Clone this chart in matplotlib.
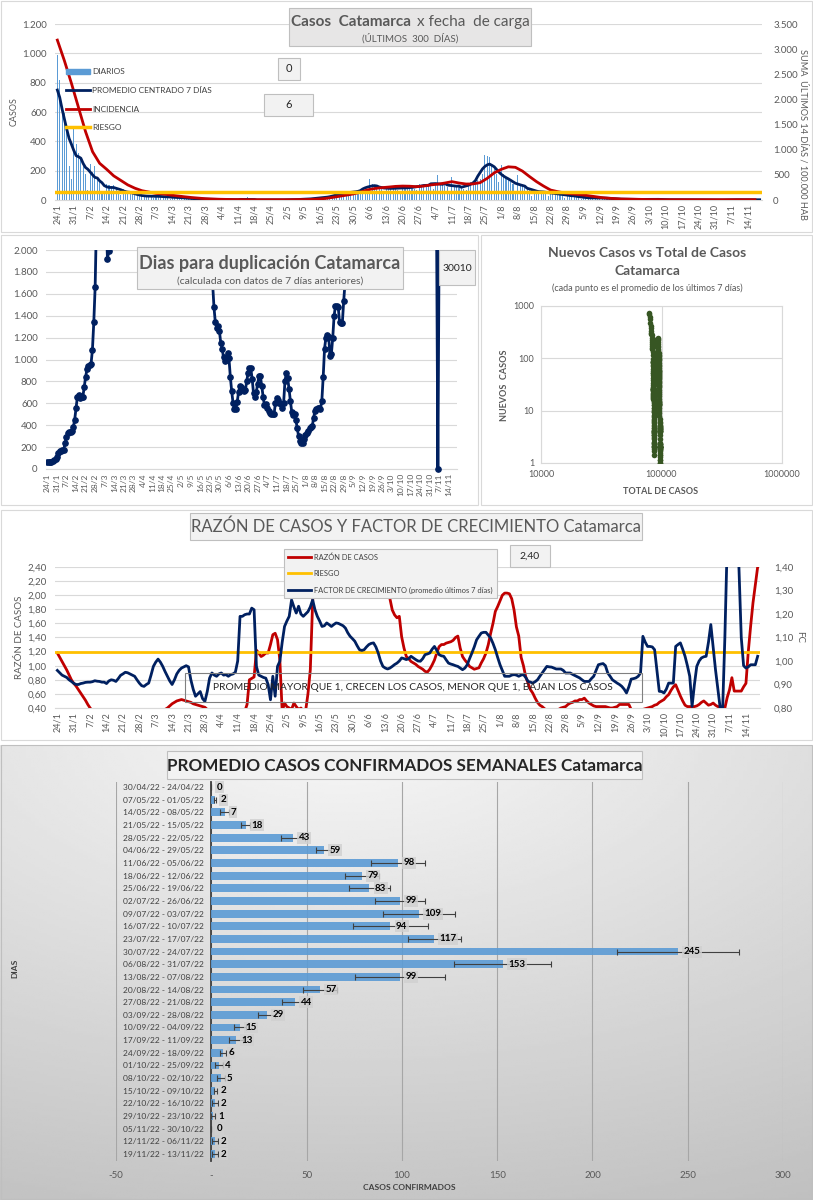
import datetime

import numpy as np
import pandas as pd
import matplotlib
matplotlib.use("Agg")
import matplotlib.pyplot as plt
from matplotlib.patches import Rectangle, Patch
from matplotlib.ticker import FuncFormatter

W, H = 813, 1200
plt.rcParams['font.family'] = ['Lato', 'DejaVu Sans']
GRIS_TXT = '#595959'
AZUL = '#002060'
ROJO = '#C00000'
NARANJA = '#FFC000'

# ---------------- datos ----------------
inicio = datetime.date(2022, 1, 24)
n_dias = 300
fechas = [inicio + datetime.timedelta(days=i) for i in range(n_dias)]
etiquetas = ["%d/%d" % (f.day, f.month) for f in fechas]

# casos diarios (24/1 .. 23/4 por semanas lun-dom, luego semanas dom-sab)
diarios = [
    990, 820, 600, 590, 500, 230, 140,
    500, 380, 320, 295, 250, 180, 70,
    245, 190, 235, 160, 120, 60, 40,
    110, 100, 95, 105, 90, 60, 35,
    75, 65, 60, 55, 50, 35, 25,
    40, 30, 30, 28, 25, 20, 15,
    35, 30, 25, 28, 22, 15, 10,
    25, 22, 20, 18, 15, 10, 8,
    15, 12, 10, 10, 8, 6, 4,
    8, 6, 5, 5, 4, 3, 2,
    4, 3, 3, 2, 3, 1, 1,
    3, 2, 2, 1, 20, 0, 1,
    1, 1, 0, 1, 0, 0,
    0, 0, 1, 0, 0, 1, 0,
    0, 3, 2, 4, 2, 3, 1,
    2, 8, 7, 10, 9, 8, 5,
    8, 20, 18, 22, 21, 20, 17,
    20, 40, 45, 55, 50, 48, 43,
    35, 62, 58, 66, 65, 64, 63,
    70, 140, 110, 105, 95, 90, 76,
    55, 90, 85, 80, 88, 85, 70,
    60, 95, 90, 85, 88, 90, 73,
    70, 110, 100, 105, 100, 110, 98,
    75, 115, 170, 110, 105, 100, 88,
    60, 160, 95, 90, 95, 85, 73,
    70, 100, 125, 120, 130, 134, 140,
    180, 310, 300, 290, 245, 210, 180,
    120, 240, 175, 160, 140, 125, 111,
    60, 170, 100, 95, 100, 90, 78,
    30, 70, 65, 60, 62, 60, 52,
    25, 60, 50, 45, 45, 43, 40,
    15, 40, 35, 30, 30, 28, 25,
    8, 20, 18, 17, 15, 14, 13,
    6, 18, 15, 14, 13, 13, 12,
    3, 8, 7, 7, 6, 6, 5,
    2, 5, 5, 4, 4, 4, 4,
    2, 6, 6, 5, 6, 5, 5,
    1, 3, 2, 2, 2, 2, 2,
    1, 2, 3, 2, 2, 2, 2,
    0, 2, 1, 1, 1, 1, 1,
    0, 0, 0, 0, 0, 0, 0,
    1, 3, 2, 2, 2, 2, 2,
    1, 3, 3, 3, 2, 2, 0,
]

# incidencia 14 dias / 100.000 hab, un valor cada 3 dias
incidencia = [
    3180, 2770, 2320, 1840, 1360, 960, 730, 610, 480, 390,
    300, 235, 185, 158, 130, 120, 100, 82, 65, 50,
    38, 26, 20, 15, 12, 9, 9, 6, 6, 6,
    6, 6, 6, 6, 9, 9, 12, 18, 30, 50,
    73, 96, 120, 155, 200, 228, 245, 257, 271, 277,
    274, 265, 277, 300, 315, 338, 365, 338, 318, 320,
    345, 430, 540, 610, 660, 650, 575, 467, 365, 277,
    198, 166, 140, 122, 108, 93, 73, 53, 38, 29,
    20, 18, 15, 12, 9, 9, 6, 6, 6, 6,
    6, 6, 6, 6, 6, 6, 6, 6, 6, 6,
]
RIESGO_INCIDENCIA = 150
TOTAL_PREVIO = 77500
ULTIMO_DIARIO = 0
ULTIMA_INCIDENCIA = 6

# dias para duplicacion (tramos visibles, con su dia de inicio)
dup_a_inicio = 0
dup_a = [60, 62, 65, 68, 72, 78, 90, 110, 145, 160,
         165, 170, 175, 240, 290, 330, 335, 335, 345, 380,
         450, 555, 660, 680, 650, 655, 660, 750, 840, 910,
         940, 950, 960, 1090, 1340, 1665, 2300]
dup_b_inicio = 43
dup_b = [2300, 1920, 1990, 2150]
dup_c_inicio = 120
dup_c = [2400, 1700, 1480, 1340, 1290, 1310, 1260, 1150, 1100, 1020,
         990, 1010, 1060, 1010, 840, 710, 600, 550, 545, 610,
         700, 755, 745, 730, 715, 720, 800, 880, 920, 920,
         820, 690, 660, 700, 780, 850, 845, 760, 660, 580,
         590, 560, 530, 515, 505, 500, 500, 600, 650, 630,
         600, 590, 560, 600, 800, 880, 830, 730, 620, 520,
         490, 500, 450, 370, 300, 260, 240, 235, 270, 310,
         330, 350, 370, 380, 390, 470, 530, 550, 555, 560,
         550, 620, 840, 1100, 1200, 1220, 1210, 1030, 1050, 1200,
         1400, 1490, 1490, 1480, 1340, 1330, 1330, 1530, 1700, 2400]
dup_d_inicio = 285
dup_d = [2300, 0, 2300]
ULTIMA_DUPLICACION = 30010

# razon de casos (eje izq) y factor de crecimiento (eje der), diarios
razon = [
    1.18, 1.12, 1.06, 1.00, 0.94, 0.87, 0.80, 0.75, 0.71, 0.66,
    0.61, 0.56, 0.51, 0.45, 0.40, 0.36, 0.33, 0.30, 0.30, 0.30,
    0.30, 0.30, 0.30, 0.30, 0.30, 0.30, 0.30, 0.30, 0.30, 0.30,
    0.30, 0.30, 0.30, 0.30, 0.30, 0.30, 0.30, 0.30, 0.30, 0.30,
    0.30, 0.30, 0.30, 0.30, 0.32, 0.35, 0.38, 0.40, 0.43, 0.46,
    0.48, 0.50, 0.51, 0.52, 0.51, 0.50, 0.49, 0.48, 0.46, 0.45,
    0.44, 0.43, 0.42, 0.41, 0.38, 0.35, 0.30, 0.30, 0.30, 0.30,
    0.30, 0.30, 0.30, 0.30, 0.30, 0.30, 0.30, 0.30, 0.30, 0.30,
    0.35, 0.45, 0.80, 0.82, 0.84, 1.22, 1.18, 1.13, 1.15, 1.18,
    1.18, 1.30, 1.44, 1.46, 1.37, 1.08, 0.35, 0.47, 0.42, 0.40,
    0.38, 0.47, 0.42, 0.38, 0.40, 0.36, 0.36, 0.60, 0.94, 1.90,
    2.60, 3.00, 3.00, 3.00, 3.00, 3.00, 3.00, 3.00, 3.00, 3.00,
    3.00, 3.00, 3.00, 3.00, 3.00, 3.00, 3.00, 3.00, 3.00, 3.00,
    3.00, 3.00, 3.00, 3.00, 3.00, 3.00, 3.00, 3.00, 3.00, 3.00,
    2.60, 2.03, 1.95, 1.79, 1.72, 1.68, 1.70, 1.41, 1.25, 1.13,
    1.10, 1.06, 1.04, 1.02, 0.99, 0.97, 0.95, 0.92, 0.91, 0.95,
    1.01, 1.08, 1.18, 1.27, 1.30, 1.30, 1.32, 1.33, 1.34, 1.36,
    1.40, 1.42, 1.25, 1.13, 1.08, 1.04, 0.99, 0.97, 0.95, 0.96,
    0.97, 1.04, 1.10, 1.18, 1.30, 1.46, 1.60, 1.77, 1.84, 1.92,
    2.00, 2.03, 2.03, 2.02, 1.95, 1.79, 1.55, 1.42, 1.12, 1.00,
    0.84, 0.75, 0.66, 0.61, 0.54, 0.48, 0.44, 0.42, 0.39, 0.37,
    0.36, 0.36, 0.36, 0.37, 0.38, 0.40, 0.41, 0.42, 0.45, 0.47,
    0.48, 0.50, 0.50, 0.52, 0.52, 0.54, 0.50, 0.47, 0.45, 0.43,
    0.42, 0.42, 0.42, 0.42, 0.42, 0.41, 0.40, 0.40, 0.41, 0.42,
    0.45, 0.45, 0.45, 0.45, 0.45, 0.38, 0.36, 0.36, 0.37, 0.38,
    0.38, 0.39, 0.40, 0.41, 0.42, 0.44, 0.45, 0.48, 0.50, 0.52,
    0.56, 0.59, 0.65, 0.70, 0.73, 0.65, 0.57, 0.50, 0.44, 0.42,
    0.42, 0.42, 0.42, 0.43, 0.45, 0.48, 0.50, 0.47, 0.44, 0.45,
    0.47, 0.44, 0.42, 0.42, 0.41, 0.40, 0.55, 0.66, 0.83, 0.64,
    0.64, 0.64, 0.64, 0.70, 0.75, 1.20, 1.56, 1.89, 2.15, 2.40,
]
factor = [
    0.960, 0.950, 0.940, 0.935, 0.930, 0.920, 0.913, 0.905, 0.900, 0.900,
    0.904, 0.906, 0.909, 0.910, 0.910, 0.912, 0.916, 0.914, 0.913, 0.910,
    0.910, 0.904, 0.915, 0.920, 0.918, 0.913, 0.925, 0.939, 0.945, 0.952,
    0.950, 0.945, 0.940, 0.935, 0.920, 0.906, 0.895, 0.892, 0.900, 0.906,
    0.940, 0.977, 0.995, 1.008, 0.995, 0.977, 0.955, 0.935, 0.915, 0.900,
    0.920, 0.945, 0.960, 0.970, 0.975, 0.980, 0.975, 0.920, 0.880, 0.850,
    0.860, 0.870, 0.840, 0.828, 0.870, 0.927, 0.949, 0.940, 0.935, 0.945,
    0.949, 0.940, 0.942, 0.935, 0.942, 0.945, 0.952, 1.000, 1.190, 1.190,
    1.197, 1.200, 1.200, 1.225, 1.218, 0.977, 0.940, 0.935, 0.930, 0.927,
    0.900, 0.835, 0.935, 0.850, 0.977, 0.999, 1.080, 1.147, 1.170, 1.190,
    1.260, 1.230, 1.204, 1.233, 1.200, 1.190, 1.200, 1.210, 1.230, 1.260,
    1.218, 1.190, 1.170, 1.147, 1.150, 1.162, 1.155, 1.147, 1.155, 1.162,
    1.160, 1.155, 1.150, 1.140, 1.120, 1.105, 1.095, 1.084, 1.065, 1.048,
    1.045, 1.048, 1.060, 1.070, 1.075, 1.077, 1.060, 1.034, 1.000, 0.977,
    0.970, 0.966, 0.970, 0.977, 0.985, 0.991, 1.000, 1.013, 1.010, 1.006,
    1.010, 1.020, 1.013, 1.006, 1.000, 0.999, 1.010, 1.027, 1.030, 1.034,
    1.050, 1.062, 1.045, 1.027, 1.022, 1.020, 1.005, 0.991, 0.987, 0.984,
    0.980, 0.977, 0.970, 0.963, 0.970, 0.984, 1.010, 1.034, 1.060, 1.090,
    1.105, 1.119, 1.122, 1.122, 1.110, 1.098, 1.075, 1.048, 1.015, 0.984,
    0.960, 0.935, 0.935, 0.935, 0.940, 0.942, 0.940, 0.935, 0.940, 0.942,
    0.930, 0.913, 0.910, 0.906, 0.912, 0.920, 0.935, 0.949, 0.963, 0.977,
    0.975, 0.974, 0.970, 0.966, 0.966, 0.966, 0.960, 0.949, 0.949, 0.949,
    0.943, 0.938, 0.933, 0.928, 0.920, 0.913, 0.913, 0.913, 0.925, 0.935,
    0.960, 0.984, 0.987, 0.989, 0.980, 0.949, 0.935, 0.920, 0.913, 0.906,
    0.900, 0.892, 0.880, 0.864, 0.890, 0.923, 0.925, 0.928, 0.935, 0.949,
    1.105, 1.080, 1.062, 1.062, 1.060, 1.048, 0.960, 0.871, 0.870, 0.864,
    0.880, 0.906, 0.906, 0.906, 1.062, 1.070, 1.077, 1.050, 1.020, 0.980,
    0.935, 0.807, 0.900, 0.977, 1.000, 1.013, 1.018, 1.020, 1.080, 1.155,
    1.060, 0.963, 0.880, 0.800, 0.780, 1.100, 1.500, 1.700, 1.700, 1.700,
    1.600, 1.400, 1.100, 0.980, 0.970, 0.975, 0.984, 0.984, 0.984, 1.020,
]
RIESGO_RAZON = 1.20
ULTIMA_RAZON = "2,40"

# promedio semanal de casos confirmados
semanas = ["30/04/22 - 24/04/22", "07/05/22 - 01/05/22", "14/05/22 - 08/05/22",
           "21/05/22 - 15/05/22", "28/05/22 - 22/05/22", "04/06/22 - 29/05/22",
           "11/06/22 - 05/06/22", "18/06/22 - 12/06/22", "25/06/22 - 19/06/22",
           "02/07/22 - 26/06/22", "09/07/22 - 03/07/22", "16/07/22 - 10/07/22",
           "23/07/22 - 17/07/22", "30/07/22 - 24/07/22", "06/08/22 - 31/07/22",
           "13/08/22 - 07/08/22", "20/08/22 - 14/08/22", "27/08/22 - 21/08/22",
           "03/09/22 - 28/08/22", "10/09/22 - 04/09/22", "17/09/22 - 11/09/22",
           "24/09/22 - 18/09/22", "01/10/22 - 25/09/22", "08/10/22 - 02/10/22",
           "15/10/22 - 09/10/22", "22/10/22 - 16/10/22", "29/10/22 - 23/10/22",
           "05/11/22 - 30/10/22", "12/11/22 - 06/11/22", "19/11/22 - 13/11/22"]
promedio_semanal = [0, 2, 7, 18, 43, 59, 98, 79, 83, 99, 109, 94, 117, 245, 153,
                    99, 57, 44, 29, 15, 13, 6, 4, 5, 2, 2, 1, 0, 2, 2]
error_semanal = [0, 0.6, 2.5, 2.5, 6.4, 4, 14.4, 9, 10.7, 13, 19, 19.5, 14, 32, 25.5,
                 23.5, 9, 6.9, 4.4, 3.2, 3.6, 1.6, 2, 2.2, 0.8, 1.5, 1, 0, 1.5, 1.5]

# ---------------- helpers ----------------
fig = plt.figure(figsize=(W / 100, H / 100), dpi=100)


def eje(l, t, r, b, **kw):
    return fig.add_axes([l / W, 1 - b / H, (r - l) / W, (b - t) / H], **kw)


def caja(x0, y0, x1, y1, fc='none', ec='#BFBFBF', lw=0.8, z=5):
    fig.add_artist(Rectangle((x0 / W, 1 - y1 / H), (x1 - x0) / W, (y1 - y0) / H,
                             transform=fig.transFigure, facecolor=fc,
                             edgecolor=ec, lw=lw, zorder=z))


def texto(x, y, s, **kw):
    kw.setdefault('color', GRIS_TXT)
    kw.setdefault('zorder', 6)
    fig.text(x / W, 1 - y / H, s, **kw)


def miles(v, pos=None):
    return "{:,}".format(int(round(v))).replace(",", ".")


def coma2(v, pos=None):
    return ("%.2f" % v).replace(".", ",")


def estilo_fechas(ax, size=6.5):
    ax.set_xlim(-1, n_dias)
    ax.set_xticks(np.arange(0, n_dias, 7))
    ax.set_xticklabels(etiquetas[::7], rotation=90)
    ax.tick_params(axis='x', length=0, labelsize=size, colors=GRIS_TXT, pad=3)
    ax.tick_params(axis='y', length=0, labelsize=7, colors=GRIS_TXT, pad=6)
    for s in ['top', 'right', 'left']:
        ax.spines[s].set_visible(False)
    ax.spines['bottom'].set_color('#D9D9D9')
    ax.yaxis.grid(True, color='#D9D9D9', lw=0.8)
    ax.set_axisbelow(True)


dias = np.arange(n_dias)

# marcos de paneles
caja(1, 1, 812, 232, ec='#D9D9D9', z=1)
caja(1, 235, 478, 505, ec='#D9D9D9', z=1)
caja(481, 235, 812, 505, ec='#D9D9D9', z=1)
caja(1, 510, 812, 740, ec='#D9D9D9', z=1)

# ---------------- panel 1: casos ----------------
ax1 = eje(55, 24, 762, 200)
promedio = pd.Series(diarios).rolling(7, center=True, min_periods=1).mean()
barras = ax1.bar(dias, diarios, width=0.45, color='#5B9BD5', zorder=2)
l_prom, = ax1.plot(dias, promedio, color=AZUL, lw=2, zorder=3)
ax1.set_ylim(0, 1200)
ax1.set_yticks(np.arange(0, 1201, 200))
ax1.yaxis.set_major_formatter(FuncFormatter(miles))
estilo_fechas(ax1)
ax1r = ax1.twinx()
l_inc, = ax1r.plot(dias[::3], incidencia, color=ROJO, lw=2)
l_rie = ax1r.axhline(RIESGO_INCIDENCIA, color=NARANJA, lw=2.5)
ax1r.set_ylim(0, 3500)
ax1r.set_yticks(np.arange(0, 3501, 500))
ax1r.yaxis.set_major_formatter(FuncFormatter(miles))
ax1r.tick_params(axis='y', length=0, labelsize=7, colors=GRIS_TXT, pad=8)
for s in ax1r.spines.values():
    s.set_visible(False)
ax1r.legend([Patch(color='#5B9BD5'), l_prom, l_inc, l_rie],
            ['DIARIOS', 'PROMEDIO CENTRADO 7 DÍAS', 'INCIDENCIA', 'RIESGO'],
            loc='upper left', bbox_to_anchor=(62 / W, 1 - 64 / H),
            bbox_transform=fig.transFigure, frameon=False, fontsize=6,
            handlelength=2.9, handletextpad=0.2, labelspacing=1.4,
            borderpad=0, labelcolor='#404040', handleheight=0.6)

caja(289, 8, 531, 46, fc='#E7E6E6')
texto(411, 22, "Casos  Catamarca", ha='right', va='center', fontsize=11,
      fontweight='bold')
texto(417, 22, "x fecha  de carga", ha='left', va='center', fontsize=11)
texto(410, 38, "(ÚLTIMOS  300  DÍAS)", ha='center', va='center', fontsize=7)
caja(278, 58, 300, 80, fc='#F2F2F2')
texto(289, 69, str(ULTIMO_DIARIO), ha='center', va='center', fontsize=8,
      color='#262626')
caja(264, 94, 313, 116, fc='#F2F2F2')
texto(288.5, 105, str(ULTIMA_INCIDENCIA), ha='center', va='center', fontsize=8,
      color='#262626')
texto(14, 112, "CASOS", rotation=90, ha='center', va='center', fontsize=6.5)
texto(803, 134, "SUMA  ÚLTIMOS 14 DÍAS / 100.000 HAB", rotation=-90,
      ha='center', va='center', fontsize=6.6)

# ---------------- panel 2: duplicacion ----------------
ax2 = eje(46, 250, 457, 469)
estilo_fechas(ax2, size=6)
ax2.set_ylim(0, 2000)
ax2.set_yticks(np.arange(0, 2001, 200))
ax2.yaxis.set_major_formatter(FuncFormatter(miles))
recorte = Rectangle((0, -0.03), 1, 1.03, transform=ax2.transAxes)
for ini, vals in [(dup_a_inicio, dup_a), (dup_b_inicio, dup_b),
                  (dup_c_inicio, dup_c), (dup_d_inicio, dup_d)]:
    ln, = ax2.plot(np.arange(ini, ini + len(vals)), vals, color=AZUL, lw=2,
                   marker='o', ms=3.8, zorder=3)
    ln.set_clip_path(recorte)

caja(137, 247, 403, 289, fc='#F2F2F2')
texto(270, 263, "Dias para duplicación Catamarca", ha='center', va='center',
      fontsize=13, fontweight='bold')
texto(270, 281, "(calculada con datos de 7 días anteriores)", ha='center',
      va='center', fontsize=7.5)
caja(439, 250, 475, 285, fc='#F2F2F2')
texto(457, 268, str(ULTIMA_DUPLICACION), ha='center', va='center', fontsize=7.5,
      color='#262626')

# ---------------- panel 3: nuevos vs total ----------------
ax3 = eje(541, 306, 782, 463)
total = TOTAL_PREVIO + np.cumsum(diarios)
ok = promedio.values > 0
ax3.scatter(total[ok], promedio.values[ok], s=16, color='#375623', zorder=3,
            linewidths=0)
ax3.set_xscale('log')
ax3.set_yscale('log')
ax3.set_xlim(1e4, 1e6)
ax3.set_ylim(1, 1000)
ax3.set_xticks([1e4, 1e5, 1e6])
ax3.set_yticks([1, 10, 100, 1000])
ax3.minorticks_off()
ax3.xaxis.set_major_formatter(FuncFormatter(lambda v, p: "%d" % v))
ax3.yaxis.set_major_formatter(FuncFormatter(lambda v, p: "%d" % v))
ax3.tick_params(length=0, labelsize=6.5, colors=GRIS_TXT, pad=5)
ax3.grid(True, color='#D9D9D9', lw=0.8)
ax3.set_axisbelow(True)
for s in ax3.spines.values():
    s.set_color('#D9D9D9')
texto(647, 253, "Nuevos Casos vs Total de Casos", ha='center', va='center',
      fontsize=10, fontweight='bold')
texto(647, 271, "Catamarca", ha='center', va='center', fontsize=10,
      fontweight='bold')
texto(647, 288, "(cada punto es el promedio de los últimos 7 días)",
      ha='center', va='center', fontsize=6.5)
texto(661, 492, "TOTAL DE CASOS", ha='center', va='center', fontsize=6.5,
      fontweight='bold')
texto(504, 385, "NUEVOS  CASOS", rotation=90, ha='center', va='center',
      fontsize=6.5, fontweight='bold')

# ---------------- panel 4: razon y factor ----------------
ax4 = eje(55, 567, 760, 708)
estilo_fechas(ax4)
l_raz, = ax4.plot(dias, razon, color=ROJO, lw=2, zorder=3)
l_r2 = ax4.axhline(RIESGO_RAZON, color=NARANJA, lw=2, zorder=4)
ax4.set_ylim(0.4, 2.4)
ax4.set_yticks(np.arange(0.4, 2.41, 0.2))
ax4.yaxis.set_major_formatter(FuncFormatter(coma2))
ax4r = ax4.twinx()
l_fac, = ax4r.plot(dias, factor, color=AZUL, lw=2, zorder=3)
ax4r.set_ylim(0.8, 1.4)
ax4r.set_yticks(np.arange(0.8, 1.41, 0.1))
ax4r.yaxis.set_major_formatter(FuncFormatter(coma2))
ax4r.tick_params(axis='y', length=0, labelsize=7, colors=GRIS_TXT, pad=10)
for s in ax4r.spines.values():
    s.set_visible(False)
leg4 = ax4r.legend([l_raz, l_r2, l_fac],
                   ['RAZÓN DE CASOS', 'RIESGO',
                    'FACTOR DE CRECIMIENTO (promedio últimos 7 días)'],
                   loc='upper left', bbox_to_anchor=(280 / W, 1 - 545 / H),
                   bbox_transform=fig.transFigure, fontsize=5.4, fancybox=False,
                   facecolor='#F2F2F2', edgecolor='#BFBFBF', framealpha=1,
                   handlelength=3.0, handletextpad=0.4, labelspacing=1.25,
                   borderpad=0.6, labelcolor='#404040')
leg4.get_frame().set_linewidth(0.8)

caja(190, 513, 642, 540, fc='#F2F2F2')
texto(416, 527, "RAZÓN DE CASOS Y FACTOR DE CRECIMIENTO Catamarca", ha='center',
      va='center', fontsize=12)
caja(510, 545, 550, 567, fc='#F2F2F2')
texto(530, 556, ULTIMA_RAZON, ha='center', va='center', fontsize=7.5,
      color='#262626')
caja(185, 673, 642, 702, fc='none', ec='#808080')
texto(413, 688, "PROMEDIO MAYOR QUE 1, CRECEN LOS CASOS, MENOR QUE 1, BAJAN LOS CASOS",
      ha='center', va='center', fontsize=7.4, color='#262626')
texto(20, 637, "RAZÓN DE CASOS", rotation=90, ha='center', va='center',
      fontsize=7)
texto(800, 637, "FC", rotation=-90, ha='center', va='center', fontsize=7)

# ---------------- panel 5: promedio semanal ----------------
ax_bg = eje(0, 745, 813, 1200)
yy, xx = np.mgrid[0:1:200j, 0:1:200j]
dist = np.sqrt((xx - 0.42) ** 2 + (yy * 1.1 + 0.05) ** 2)
ax_bg.imshow(np.clip(0.97 - 0.17 * dist, 0, 1), extent=[0, 1, 0, 1],
             aspect='auto', cmap='gray', vmin=0, vmax=1)
ax_bg.set_axis_off()
ax_bg.set_zorder(-1)
caja(1, 745, 812, 1199, ec='#BFBFBF', z=1)

ax5 = eje(116, 782, 783, 1161)
ax5.patch.set_alpha(0)
pos = np.arange(len(semanas))
ax5.barh(pos, promedio_semanal, height=0.62, color='#5B9BD5', alpha=0.9,
         xerr=error_semanal, error_kw=dict(ecolor='#404040', elinewidth=0.8,
                                           capsize=2, capthick=0.8), zorder=3)
for i, v in enumerate(promedio_semanal):
    ax5.annotate(str(v), (v, i), xytext=(4, 0), textcoords='offset points',
                 ha='left', va='center', fontsize=7, fontweight='bold',
                 color='black', zorder=5,
                 bbox=dict(boxstyle='square,pad=0.15', fc='#D0D0D0', ec='none',
                           alpha=0.8))
ax5.set_xlim(-50, 300)
ax5.set_ylim(len(semanas) - 0.45, -0.4)
ax5.set_xticks(np.arange(-50, 301, 50))
ax5.xaxis.set_major_formatter(FuncFormatter(lambda v, p: "-" if v == 0 else "%d" % v))
ax5.set_yticks(pos)
ax5.set_yticklabels(semanas)
ax5.spines['left'].set_position(('data', 0))
ax5.spines['left'].set_color('#404040')
ax5.spines['left'].set_linewidth(1.3)
for s in ['top', 'right', 'bottom']:
    ax5.spines[s].set_visible(False)
ax5.tick_params(axis='y', length=0, labelsize=6, colors='#404040', pad=5)
ax5.tick_params(axis='x', length=0, labelsize=7, colors=GRIS_TXT, pad=7)
ax5.xaxis.grid(True, color='#A6A6A6', lw=0.8)
ax5.set_axisbelow(True)

caja(167, 751, 642, 779, fc='#F2F2F2')
texto(405, 766, "PROMEDIO CASOS CONFIRMADOS SEMANALES Catamarca", ha='center',
      va='center', fontsize=12.3, fontweight='bold', color='#262626')
texto(409, 1188, "CASOS CONFIRMADOS", ha='center', va='center', fontsize=6,
      fontweight='bold', color='#404040')
texto(15, 968, "DIAS", rotation=90, ha='center', va='center', fontsize=6,
      fontweight='bold', color='#404040')

fig.savefig("out.png", dpi=100)
